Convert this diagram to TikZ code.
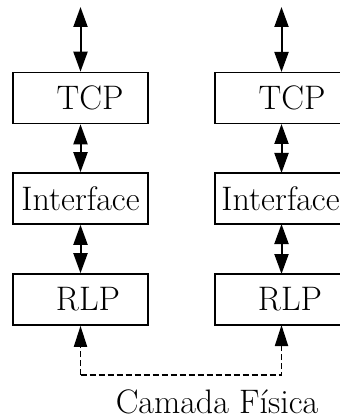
\documentclass[tikz,border=0pt]{standalone}
\usetikzlibrary{arrows.meta}
\begin{document}
\begin{tikzpicture}[x=1pt,y=-1pt,
  layerbox/.style={draw,line width=1.6pt,minimum width=135pt,minimum height=51pt,inner sep=0pt},
  rbox/.style={draw,line width=1.6pt,minimum width=150pt,minimum height=51pt,inner sep=0pt},
  lbl/.style={font=\fontsize{34}{40}\selectfont,inner sep=0pt},
  link/.style={line width=2pt,{Triangle[length=20pt,width=14pt]}-{Triangle[length=20pt,width=14pt]}},
  phys/.style={line width=1.8pt,dash pattern=on 6pt off 3pt,-{Triangle[length=21pt,width=13pt]}}
]
\useasboundingbox (0,0) rectangle (339,419);
% left stack
\node[layerbox] (tcpL) at (80.5,98) {};
\node[lbl] at (90,98) {TCP};
\node[layerbox] (ifL) at (80.5,198.5) {};
\node[lbl] at (80.5,198.5) {Interface};
\node[layerbox] (rlpL) at (80.5,299.5) {};
\node[lbl] at (88,299.5) {RLP};
% right stack (right edge beyond the page)
\node[rbox,anchor=west] (tcpR) at (214,98) {};
\node[lbl] at (292,98) {TCP};
\node[rbox,anchor=west] (ifR) at (214,198.5) {};
\node[lbl] at (280.5,198.5) {Interface};
\node[rbox,anchor=west] (rlpR) at (214,299.5) {};
\node[lbl] at (290,299.5) {RLP};
% connector columns
\coordinate (topL) at (80.5,7);
\coordinate (topR) at (281.5,7);
\coordinate (tR1) at (281.5,124);
\coordinate (tR2) at (281.5,173);
\coordinate (tR3) at (281.5,224);
\coordinate (tR4) at (281.5,274);
\coordinate (tR5) at (281.5,72);
\coordinate (tR6) at (281.5,325);
\draw[link] (topL) -- (tcpL.north);
\draw[link] (topR) -- (tR5);
\draw[link] (tcpL.south) -- (ifL.north);
\draw[link] (tR1) -- (tR2);
\draw[link] (ifL.south) -- (rlpL.north);
\draw[link] (tR3) -- (tR4);
% physical layer
\coordinate (bl) at (80.5,375);
\coordinate (br) at (281.5,375);
\draw[phys] (bl) -- (rlpL.south);
\draw[phys] (bl) -- (br) -- (tR6);
\node[lbl,anchor=base] (phy) at (217,413) {Camada F\'{\i}sica};
\end{tikzpicture}
\end{document}
